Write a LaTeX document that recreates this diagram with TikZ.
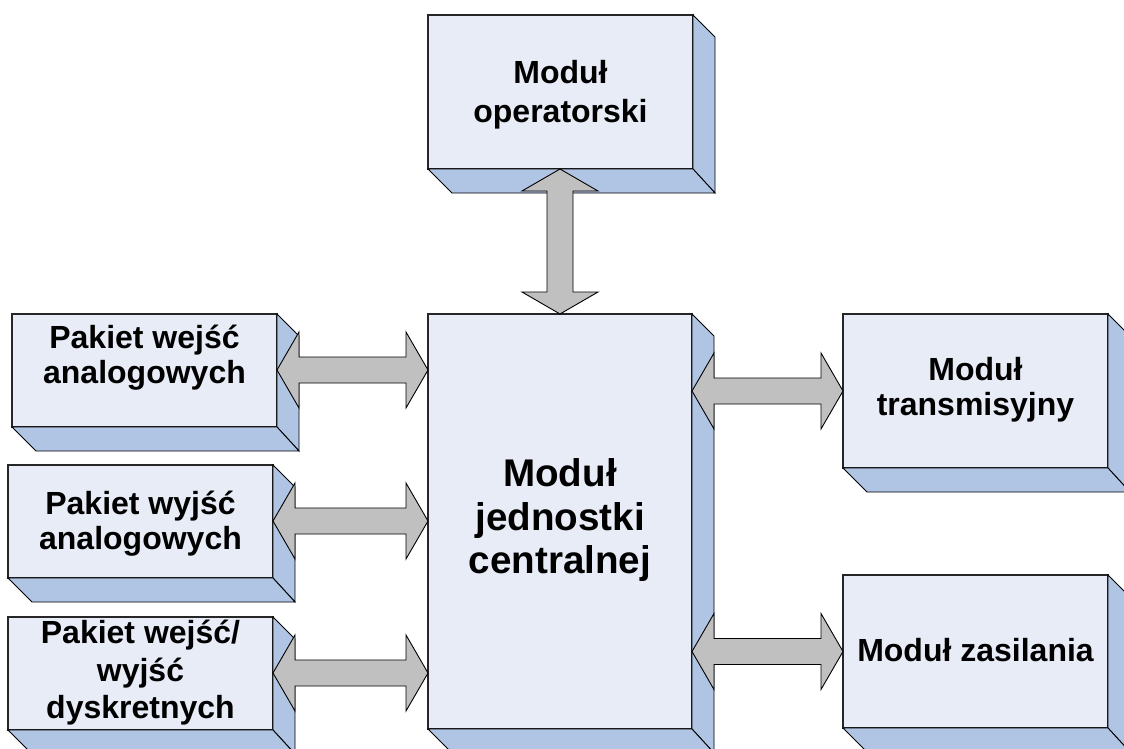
\documentclass[tikz,border=0pt]{standalone}
\usepackage{fontspec}
\setmainfont{Liberation Sans}
\usetikzlibrary{calc}

\definecolor{facefill}{RGB}{232,236,247}
\definecolor{sidefill}{RGB}{176,196,228}
\definecolor{busfill}{RGB}{192,192,192}

% right and lower faces of an extruded block, built on the front node #1
\newcommand\slabdepth[1]{%
  \filldraw[sideface] (#1.north east) -- ++(22,22) -- ($(#1.south east)+(22,24)$) -- (#1.south east) -- cycle;
  \filldraw[sideface] (#1.south west) -- ++(24,24) -- ($(#1.south east)+(22,24)$) -- (#1.south east) -- cycle;
}
% horizontal two-way bus between node #1 (left) and node #2 (right) at height #3
\newcommand\hbus[3]{%
  \filldraw[bus] ($(#1.east |- 0,#3)$) -- ++(22,-38) -- ++(0,25)
    -- ($(#2.west |- 0,#3)+(-22,-13)$) -- ++(0,-25) -- ($(#2.west |- 0,#3)$)
    -- ++(-22,38) -- ++(0,-25) -- ($(#1.east |- 0,#3)+(22,13)$) -- ++(0,25) -- cycle;
}
% vertical two-way bus between node #1 (top) and node #2 (bottom) at abscissa #3
\newcommand\vbus[3]{%
  \filldraw[bus] ($(#1.south -| #3,0)$) -- ++(-38,22) -- ++(25,0)
    -- ($(#2.north -| #3,0)+(-13,-22)$) -- ++(-25,0) -- ($(#2.north -| #3,0)$)
    -- ++(38,-22) -- ++(-25,0) -- ($(#1.south -| #3,0)+(13,22)$) -- ++(25,0) -- cycle;
}

\begin{document}
\begin{tikzpicture}[x=1pt, y=-1pt,
  face/.style={draw=black!85, line width=1.3pt, fill=facefill, inner sep=0pt, outer sep=0pt,
               minimum width=265pt},
  small/.style={face, minimum height=113pt},
  sideface/.style={draw=black, line width=0.9pt, fill=sidefill, line join=miter},
  bus/.style={draw=black, line width=0.9pt, fill=busfill, line join=miter},
  txt/.style={align=center, font=\bfseries\fontsize{32}{35}\selectfont, inner sep=0pt}]

\fill[white] (0,0) rectangle (1124,749);
\useasboundingbox (0,0) rectangle (1124,749);

% front faces
\node[face, minimum height=154pt] (op)  at (560.5,92)   {};
\node[face, minimum width=264pt, minimum height=415pt] (cpu) at (560,521.5) {};
\node[small] (ain)  at (144.5,370.5) {};
\node[small] (aout) at (140.5,521.5) {};
\node[small] (dio)  at (140.5,673.5) {};
\node[face, minimum height=154pt] (tx)  at (975.5,391)   {};
\node[face, minimum height=153pt] (psu) at (975.5,651.5) {};

% extrusion
\slabdepth{op}
\slabdepth{cpu}
\slabdepth{ain}
\slabdepth{aout}
\slabdepth{dio}
\slabdepth{tx}
\slabdepth{psu}

% labels
\node[txt, font=\bfseries\fontsize{32}{39}\selectfont] at ([yshift=-3pt]op.center) {Moduł\\operatorski};
\node[txt, font=\bfseries\fontsize{38.6}{43.5}\selectfont] at ([yshift=1pt]cpu.center) {Moduł\\jednostki\\centralnej};
\node[txt] at ([yshift=13pt]ain.center) {Pakiet wejść\\analogowych};
\node[txt] at ([yshift=-2.5pt]aout.center) {Pakiet wyjść\\analogowych};
\node[txt, font=\bfseries\fontsize{32}{37.5}\selectfont] at ([yshift=0.5pt]dio.center) {Pakiet wejść/\\wyjść\\dyskretnych};
\node[txt] at ([yshift=1pt]tx.center) {Moduł\\transmisyjny};
\node[txt] at ([yshift=1.5pt]psu.center) {Moduł zasilania};

% buses
\vbus{op}{cpu}{560}
\hbus{ain}{cpu}{370}
\hbus{aout}{cpu}{521}
\hbus{dio}{cpu}{673}
\hbus{cpu}{tx}{391}
\hbus{cpu}{psu}{651.5}
\end{tikzpicture}
\end{document}
